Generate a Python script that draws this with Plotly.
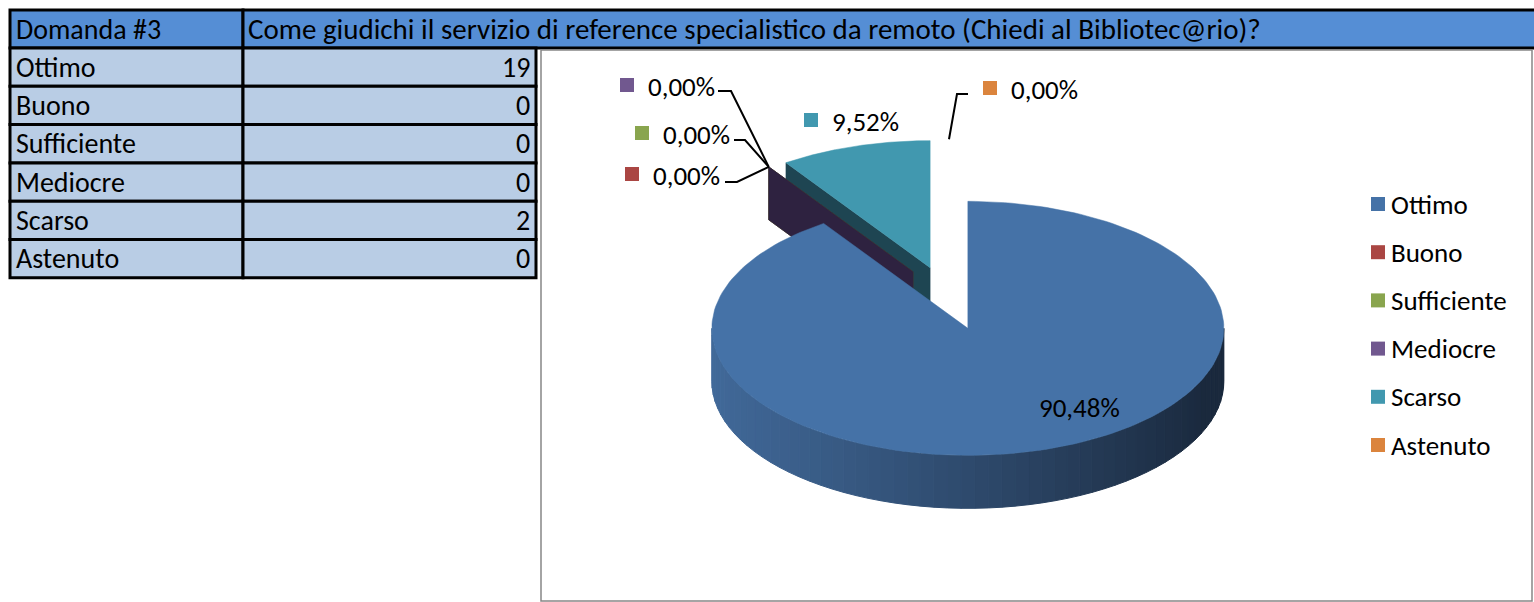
import numpy as np
import plotly.graph_objects as go

# ---------------- data ----------------
question_id = "Domanda #3"
question = "Come giudichi il servizio di reference specialistico da remoto (Chiedi al Bibliotec@rio)?"
categories = ["Ottimo", "Buono", "Sufficiente", "Mediocre", "Scarso", "Astenuto"]
counts = [19, 0, 0, 0, 2, 0]
colors = ["#4572A7", "#AA4643", "#89A54E", "#71588F", "#4198AF", "#DB843D"]
face_colors = ["#2A4466", "#5A2424", "#48582A", "#2E2240", "#1E4552", "#6E421E"]

# ---------------- layout constants (pixels) ----------------
W, H = 1534, 602
FONT = "Calibri, Carlito, Lato, sans-serif"
FS = 28
TX0, TX1, TX2 = 10, 243, 536
T_TOP, HDR_H, ROW_H = 10, 38, 38.3
HDR_BG, ROW_BG = "#558ED5", "#B9CDE5"

CX, CY = 949, 298          # pie centre (before explosion)
RX, RY, DEPTH = 256, 127, 53
EXPL = 0.25

fig = go.Figure()
shapes, annotations = [], []

# ---------------- table ----------------
shapes.append(dict(type="rect", x0=TX0, x1=TX1, y0=T_TOP, y1=T_TOP + HDR_H,
                   fillcolor=HDR_BG, line=dict(color="black", width=3), layer="below"))
shapes.append(dict(type="rect", x0=TX1, x1=W + 10, y0=T_TOP, y1=T_TOP + HDR_H,
                   fillcolor=HDR_BG, line=dict(color="black", width=3), layer="below"))
annotations.append(dict(x=TX0 + 4, y=T_TOP + HDR_H / 2, text=question_id, showarrow=False,
                        xanchor="left", yanchor="middle", font=dict(family=FONT, size=FS, color="black")))
annotations.append(dict(x=TX1 + 3, y=T_TOP + HDR_H / 2, text=question, showarrow=False,
                        xanchor="left", yanchor="middle", font=dict(family=FONT, size=FS + 1, color="black")))
for i, (cat, n) in enumerate(zip(categories, counts)):
    y0 = T_TOP + HDR_H + i * ROW_H
    y1 = y0 + ROW_H
    for a, b in ((TX0, TX1), (TX1, TX2)):
        shapes.append(dict(type="rect", x0=a, x1=b, y0=y0, y1=y1, fillcolor=ROW_BG,
                           line=dict(color="black", width=3), layer="below"))
    annotations.append(dict(x=TX0 + 4, y=(y0 + y1) / 2, text=cat, showarrow=False,
                            xanchor="left", yanchor="middle", font=dict(family=FONT, size=FS, color="black")))
    annotations.append(dict(x=TX2 - 4, y=(y0 + y1) / 2, text=str(n), showarrow=False,
                            xanchor="right", yanchor="middle", font=dict(family=FONT, size=FS, color="black")))

# chart area border
shapes.append(dict(type="rect", x0=541, x1=1532, y0=50, y1=601, fillcolor="rgba(0,0,0,0)",
                   line=dict(color="#868686", width=1.5), layer="below"))

# ---------------- 3D pie ----------------
total = sum(counts)
fracs = [c / total for c in counts]


def poly(xs, ys, color, lw=0):
    fig.add_trace(go.Scatter(x=xs, y=ys, mode="lines", fill="toself", fillcolor=color,
                             line=dict(color=color, width=lw), hoverinfo="skip", showlegend=False))


def hexlerp(c1, c2, t):
    a = [int(c1[k:k + 2], 16) for k in (1, 3, 5)]
    b = [int(c2[k:k + 2], 16) for k in (1, 3, 5)]
    return "#%02x%02x%02x" % tuple(int(round(a[j] + (b[j] - a[j]) * t)) for j in range(3))


slices = []
acc = 0.0
for i, f in enumerate(fracs):
    t0, t1 = acc * 2 * np.pi, (acc + f) * 2 * np.pi
    mid = (t0 + t1) / 2
    ox = CX + EXPL * RX * np.sin(mid)
    oy = CY - EXPL * RY * np.cos(mid)
    slices.append(dict(i=i, t0=t0, t1=t1, ox=ox, oy=oy))
    acc += f

rim = {}
for s in sorted(slices, key=lambda s: s["oy"]):
    i, t0, t1, ox, oy = s["i"], s["t0"], s["t1"], s["ox"], s["oy"]
    rim[i] = (ox + RX * np.sin(t0), oy - RY * np.cos(t0))
    # radial faces
    for t, vis in ((t0, np.sin(t0) < -1e-6), (t1, np.sin(t1) > 1e-6)):
        if vis:
            rx_, ry_ = ox + RX * np.sin(t), oy - RY * np.cos(t)
            poly([ox, rx_, rx_, ox, ox], [oy, ry_, ry_ + DEPTH, oy + DEPTH, oy], face_colors[i], 0.5)
    # outer wall (front half only)
    a, b = max(t0, np.pi / 2), min(t1, 3 * np.pi / 2)
    if b > a:
        ts = np.linspace(a, b, 60)
        for k in range(len(ts) - 1):
            th = np.array([ts[k], ts[k + 1]])
            xs = ox + RX * np.sin(th)
            ys = oy - RY * np.cos(th)
            xm = xs.mean()
            tt = np.clip((CX + RX - xm) / (2 * RX), 0, 1)
            col = hexlerp("#1A293D", "#426B9C", tt ** 0.9)
            poly([xs[0], xs[1], xs[1], xs[0], xs[0]],
                 [ys[0], ys[1], ys[1] + DEPTH, ys[0] + DEPTH, ys[0]], col, 1)
    # top face
    if t1 > t0:
        th = np.linspace(t0, t1, 200)
        xs = np.concatenate([[ox], ox + RX * np.sin(th), [ox]])
        ys = np.concatenate([[oy], oy - RY * np.cos(th), [oy]])
        poly(xs, ys, colors[i], 0.5)

# ---------------- data labels ----------------
def pct(c):
    return ("%.2f%%" % (100 * c / total)).replace(".", ",")

# label anchor: (square x, centre y) per category
label_pos = {0: (1018, 406), 1: (632, 174), 2: (642, 133), 3: (627, 85), 4: (811, 120), 5: (990, 88)}
leader_elbow = {1: (725, 737, 182), 2: (734, 745, 140), 3: (718, 731, 91), 5: (968, 957, 94)}

for i, c in enumerate(counts):
    sx, sy = label_pos[i]
    if i != 0:
        fig.add_trace(go.Scatter(x=[sx], y=[sy], mode="markers",
                                 marker=dict(symbol="square", size=14, color=colors[i]),
                                 hoverinfo="skip", showlegend=False))
    annotations.append(dict(x=sx + 19, y=sy + 1, text=pct(c), showarrow=False, xanchor="left",
                            yanchor="middle", font=dict(family=FONT, size=FS - 1, color="black")))
    if i in leader_elbow:
        xa, xb, ly = leader_elbow[i]
        ex, ey = rim[i]
        fig.add_trace(go.Scatter(x=[xa, xb, ex], y=[ly, ly, ey], mode="lines",
                                 line=dict(color="black", width=2), hoverinfo="skip", showlegend=False))

# ---------------- legend ----------------
LEG_X, LEG_Y0, LEG_DY = 1378, 204, 48.2
for i, cat in enumerate(categories):
    y = LEG_Y0 + i * LEG_DY
    fig.add_trace(go.Scatter(x=[LEG_X], y=[y], mode="markers",
                             marker=dict(symbol="square", size=14, color=colors[i]),
                             hoverinfo="skip", showlegend=False))
    annotations.append(dict(x=LEG_X + 11, y=y, text=cat, showarrow=False, xanchor="left",
                            yanchor="middle", font=dict(family=FONT, size=FS - 1, color="black")))

fig.update_layout(
    width=W, height=H, margin=dict(l=0, r=0, t=0, b=0),
    paper_bgcolor="white", plot_bgcolor="white",
    xaxis=dict(range=[0, W], visible=False, fixedrange=True),
    yaxis=dict(range=[H, 0], visible=False, fixedrange=True),
    shapes=shapes, annotations=annotations, showlegend=False,
)
fig.write_html("out.html")
